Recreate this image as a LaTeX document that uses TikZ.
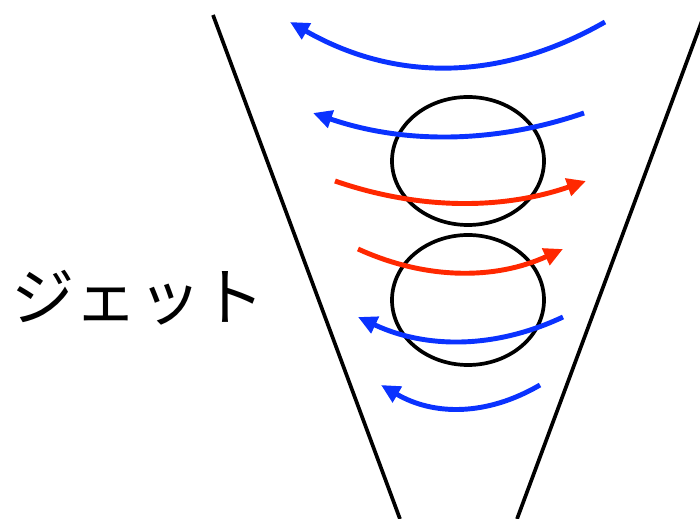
\documentclass[tikz,border=0pt]{standalone}
\usepackage{fontspec}
\newfontfamily\cjk{Noto Sans CJK JP}
\usetikzlibrary{arrows.meta}
\definecolor{flowblue}{RGB}{10,50,255}
\definecolor{flowred}{RGB}{255,40,0}
\tikzset{
  wall/.style={draw=black, line width=1.05pt},
  eddy/.style={draw=black, line width=1.05pt},
  bflow/.style={draw=flowblue, line width=1.4pt, -{Triangle[length=5.4pt, width=5pt]}},
  rflow/.style={bflow, draw=flowred},
  lbl/.style={font=\cjk\fontsize{18}{21}\selectfont, inner sep=0pt},
}
\begin{document}
\begin{tikzpicture}[x=0.01cm, y=-0.01cm]
  \useasboundingbox (0,0) rectangle (700,519);
  % funnel walls
  \coordinate (wl1) at (213,15);
  \coordinate (wl2) at (400,519);
  \coordinate (wr1) at (703,18);
  \coordinate (wr2) at (517,519);
  \draw[wall] (wl1) -- (wl2);
  \draw[wall] (wr1) -- (wr2);
  % eddies
  \draw[eddy] (468,161) ellipse (76 and 64);
  \draw[eddy] (468,300) ellipse (76 and 65);
  % flow lines
  \draw[bflow] (605,22) .. controls (500,82) and (395,82) .. (290,22);
  \draw[bflow] (584,113) .. controls (494,144) and (403,144) .. (313,113);
  \draw[rflow] (335,181) .. controls (419,210) and (502,210) .. (586,181);
  \draw[rflow] (358,249) .. controls (426,280) and (495,280) .. (563,249);
  \draw[bflow] (563,317) .. controls (495,349) and (426,349) .. (358,317);
  \draw[bflow] (540,385) .. controls (487,416) and (434,416) .. (381,385);
  % label
  \node[lbl] (jet) at (138,298) {ジェット};
\end{tikzpicture}
\end{document}
